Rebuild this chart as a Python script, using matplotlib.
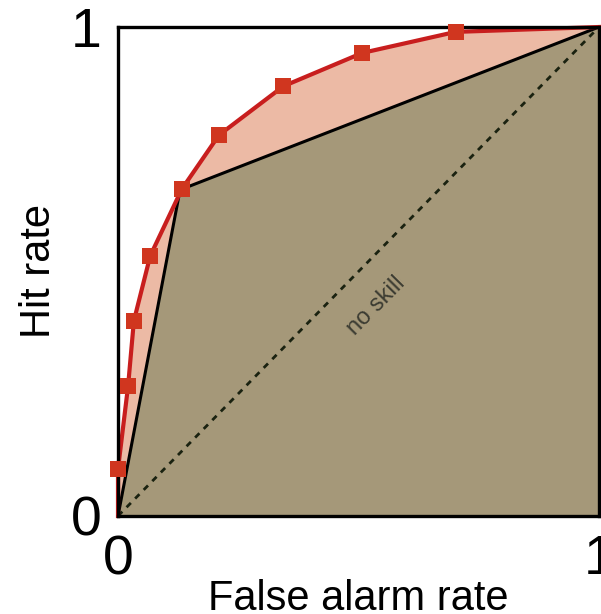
import numpy as np
import matplotlib.pyplot as plt

plt.rcParams['font.family'] = ['Liberation Sans', 'DejaVu Sans']

# ROC points (false alarm rate, hit rate) for the forecast system
far = [0.0, 0.0, 0.021, 0.033, 0.067, 0.133, 0.21, 0.344, 0.508, 0.702, 1.0]
hit = [0.0, 0.096, 0.266, 0.399, 0.532, 0.669, 0.779, 0.879, 0.947, 0.99, 1.0]

# single-threshold (binary) forecast
far_bin = [0.0, 0.129, 1.0]
hit_bin = [0.0, 0.667, 1.0]

red = '#C81E1E'
salmon = '#ECBAA5'
tan = '#A59879'

fig = plt.figure(figsize=(6.01, 6.14), dpi=100)
ax = fig.add_axes([118 / 601, 98 / 614, 481 / 601, 489 / 614])

ax.fill_between(far, hit, 0, color=salmon, lw=0, zorder=1)
ax.fill_between(far_bin, hit_bin, 0, color=tan, lw=0, zorder=2)
ax.plot([0, 1], [0, 1], ls=(0, (2.2, 2.2)), color='#1A2210', lw=2, zorder=3)
ax.plot(far_bin, hit_bin, color='black', lw=2.2, zorder=4)
ax.plot(far, hit, color=red, lw=3, zorder=5, clip_on=False)
ax.plot(far[1:-1], hit[1:-1], 's', color='#D0361F', ms=11, mew=0, zorder=9,
        clip_on=False)

ax.text(0.5375, 0.43, 'no skill', rotation=45.5, ha='center', va='center',
        fontsize=17, color='#3C3C32', zorder=7)

ax.set_xlim(0, 1)
ax.set_ylim(0, 1)
ax.set_xticks([0, 1])
ax.set_yticks([0, 1])
ax.set_xticklabels(['0', '1'])
ax.set_yticklabels(['0', '1'])
ax.tick_params(length=0, labelsize=40, pad=13)
ax.tick_params(axis='y', pad=12)
for s in ax.spines.values():
    s.set_linewidth(2.4)
    s.set_zorder(8)

ax.set_xlabel('False alarm rate', fontsize=30, labelpad=-5)
ax.set_ylabel('Hit rate', fontsize=30, labelpad=8)

fig.savefig('out.png', dpi=100)
